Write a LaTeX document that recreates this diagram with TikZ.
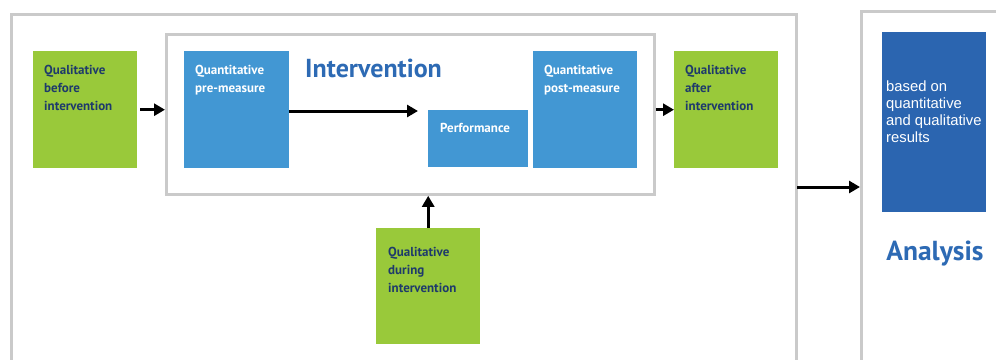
\documentclass[tikz,border=0pt]{standalone}
\usepackage{fontspec}
\setmainfont{PT Sans}
\newfontfamily\arialfont{Liberation Sans}
\usetikzlibrary{arrows.meta}
\definecolor{grn}{HTML}{99C93A}
\definecolor{lblue}{HTML}{4297D3}
\definecolor{dblue}{HTML}{2B65B0}
\definecolor{frame}{HTML}{CACACA}
\definecolor{ttl}{HTML}{2D6AB4}
\definecolor{navy}{HTML}{1E3A6B}
\tikzset{
  box/.style={rectangle, anchor=north west, inner sep=0pt, draw=none},
  greenbox/.style={box, fill=grn},
  bluebox/.style={box, fill=lblue},
  frm/.style={rectangle, anchor=north west, inner sep=0pt, draw=frame, line width=2.8pt, fill=white},
  gtxt/.style={anchor=north west, inner sep=0pt, align=left, text=navy, font=\bfseries\fontsize{13}{18.2}\selectfont},
  btxt/.style={anchor=north west, inner sep=0pt, align=left, text=white, font=\bfseries\fontsize{13}{18.2}\selectfont},
  arr/.style={draw=black, line width=3pt, -{Triangle[length=11pt,width=12pt]}},
}
\begin{document}
\begin{tikzpicture}[x=1pt,y=-1pt]
\useasboundingbox (0,0) rectangle (996,359);
\clip (0,0) rectangle (996,359);
\fill[white] (0,0) rectangle (996,359);
% outer frames
\node[frm, minimum width=785pt, minimum height=380pt] (outer) at (10,13) {};
\node[frm, minimum width=160pt, minimum height=380pt] (anframe) at (860,10) {};
% intervention frame
\node[frm, minimum width=488pt, minimum height=160pt] (ivbox) at (165,33) {};
\node[anchor=base west, inner sep=0pt, text=ttl, font=\bfseries\fontsize{26}{30}\selectfont] (ivtitle) at (305,77) {Intervention};
% boxes
\node[greenbox, minimum width=104pt, minimum height=117pt] (before) at (33,51) {};
\node[gtxt] (tbefore) at (44,65) {Qualitative\\before\\intervention};
\node[bluebox, minimum width=105pt, minimum height=117pt] (pre) at (184,51) {};
\node[btxt] (tpre) at (195,65) {Quantitative\\pre-measure};
\node[bluebox, minimum width=100pt, minimum height=57pt] (perf) at (428,110) {};
\node[btxt] (tperf) at (440,123) {Performance};
\node[bluebox, minimum width=104pt, minimum height=117pt] (post) at (533,51) {};
\node[btxt] (tpost) at (544,65) {Quantitative\\post-measure};
\node[greenbox, minimum width=104pt, minimum height=117pt] (after) at (674,51) {};
\node[gtxt] (tafter) at (685,65) {Qualitative\\after\\intervention};
\node[greenbox, minimum width=104pt, minimum height=116pt] (during) at (376,228) {};
\node[gtxt] (tduring) at (388,247) {Qualitative\\during\\intervention};
% analysis
\node[box, fill=dblue, minimum width=104pt, minimum height=180pt] (anbox) at (882,32) {};
\node[anchor=north west, inner sep=0pt, align=left, text=white, font=\arialfont\fontsize{14.8}{16.7}\selectfont] (tan) at (886,81) {based on\\quantitative\\and qualitative\\results};
\node[anchor=base, inner sep=0pt, text=ttl, font=\bfseries\fontsize{27.5}{32}\selectfont] (antitle) at (935,260) {Analysis};
% connectors
\coordinate (p1) at (418,111);
\coordinate (a1) at (797,187);
\draw[arr, shorten <=3pt] (before.east) -- (ivbox.west |- before.east);
\draw[arr] (pre.east |- p1) -- (p1);
\draw[arr] (ivbox.east |- after.west) -- (after.west);
\draw[arr] (during.north) -- (during.north |- ivbox.south);
\draw[arr] (a1) -- (a1 -| anframe.west);
\end{tikzpicture}
\end{document}
